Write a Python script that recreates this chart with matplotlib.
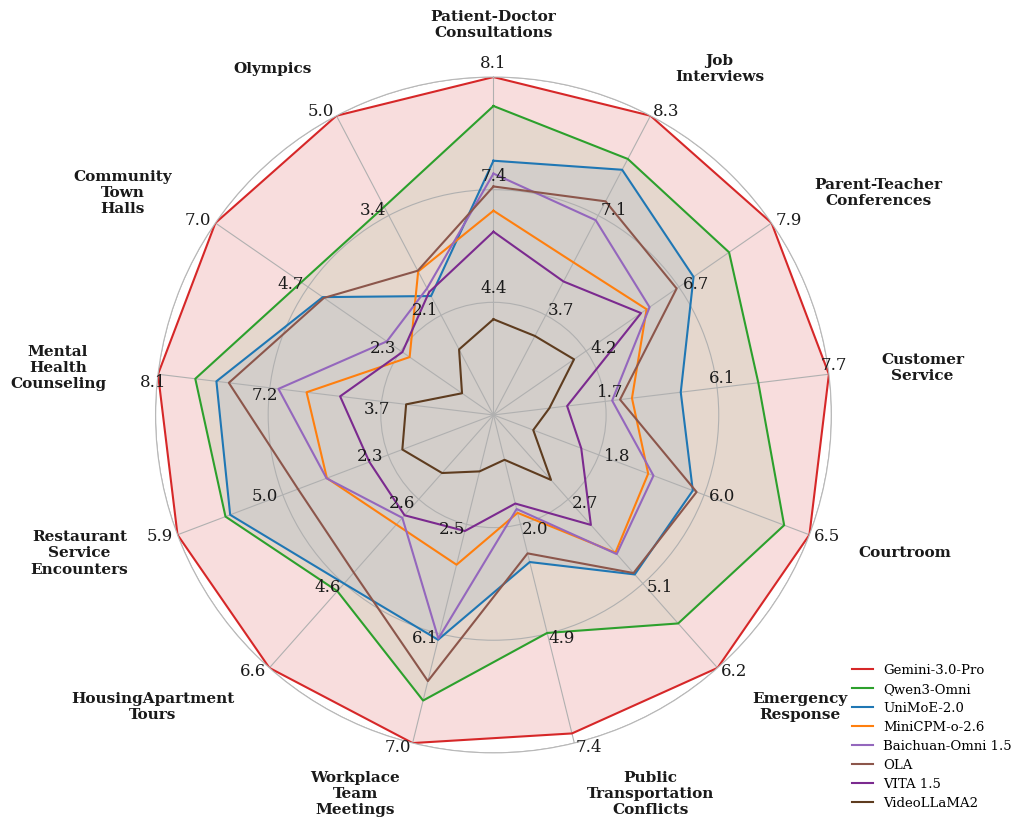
"""
Radar chart - per-scenario scores of omni models (each spoke has its own scale).
"""

import numpy as np
import matplotlib.pyplot as plt

plt.rcParams['font.family'] = 'DejaVu Serif'

# --- scenarios, clockwise from the top ------------------------------------
CATEGORIES = [
    "Patient-Doctor\nConsultations",
    "Job\nInterviews",
    "Parent-Teacher\nConferences",
    "Customer\nService",
    "Courtroom",
    "Emergency\nResponse",
    "Public\nTransportation\nConflicts",
    "Workplace\nTeam\nMeetings",
    "HousingApartment\nTours",
    "Restaurant\nService\nEncounters",
    "Mental\nHealth\nCounseling",
    "Community\nTown\nHalls",
    "Olympics",
]

# per-spoke scale: values shown on the three rings
TICKS_INNER = [4.4, 3.7, 4.2, 1.7, 1.8, 2.7, 2.0, 2.5, 2.6, 2.3, 3.7, 2.3, 2.1]
TICKS_MID = [7.4, 7.1, 6.7, 6.1, 6.0, 5.1, 4.9, 6.1, 4.6, 5.0, 7.2, 4.7, 3.4]
TICKS_OUTER = [8.1, 8.3, 7.9, 7.7, 6.5, 6.2, 7.4, 7.0, 6.6, 5.9, 8.1, 7.0, 5.0]

MODELS = ["Gemini-3.0-Pro", "Qwen3-Omni", "UniMoE-2.0", "MiniCPM-o-2.6",
          "Baichuan-Omni 1.5", "OLA", "VITA 1.5", "VideoLLaMA2"]
COLORS = ["#d62728", "#2ca02c", "#1f77b4", "#ff7f0e",
          "#9467bd", "#8c564b", "#7b2a8f", "#5e3c1f"]
# only the three strongest models get a shaded area
FILL_ALPHA = [0.155, 0.09, 0.09, 0, 0, 0, 0, 0]

gemini = [8.1, 8.3, 7.9, 7.7, 6.5, 6.2, 7.18, 7.0, 6.6, 5.9, 8.1, 7.0, 5.0]
qwen = [7.92, 7.78, 7.35, 6.69, 6.38, 5.62, 4.88, 6.65, 4.78, 5.49, 7.80, 4.87, 3.54]
unimoe = [7.58, 7.65, 6.89, 4.67, 5.55, 4.84, 3.00, 6.15, 4.60, 5.45, 7.63, 4.32, 2.35]
minicpm = [6.84, 5.50, 5.83, 2.75, 3.77, 4.22, 1.79, 3.83, 3.20, 3.87, 6.05, 2.08, 2.67]
baichuan = [7.50, 6.94, 5.91, 1.97, 3.98, 4.26, 1.72, 6.14, 3.04, 3.88, 6.93, 2.66, 2.45]
ola = [7.42, 7.27, 6.64, 2.28, 5.70, 4.80, 2.77, 6.49, 4.34, 4.61, 7.53, 4.29, 2.68]
vita = [6.28, 4.85, 5.68, 1.12, 1.50, 3.43, 1.62, 2.72, 2.98, 2.78, 5.00, 2.26, 2.40]
videollama = [3.74, 2.93, 3.65, 0.85, 0.68, 2.08, 0.82, 1.29, 1.79, 1.99, 2.89, 0.78, 1.38]

SCORES = [gemini, qwen, unimoe, minicpm, baichuan, ola, vita, videollama]

RINGS = [1 / 3, 2 / 3, 1.0]
N = len(CATEGORIES)
angles = np.arange(N) * 2 * np.pi / N


def to_radius(i, v):
    # piecewise-linear scale of spoke i through its ring values
    xp = [0, TICKS_INNER[i], TICKS_MID[i], TICKS_OUTER[i]]
    return np.interp(v, xp, [0] + RINGS)


fig = plt.figure(figsize=(10.24, 8.31), dpi=100)
ax = fig.add_axes([0.1519, 0.0939, 0.66, 0.8135], polar=True)
ax.set_theta_offset(np.pi / 2)
ax.set_theta_direction(-1)
ax.set_ylim(0, 1)

theta = np.append(angles, angles[0])
for name, color, alpha, vals in zip(MODELS, COLORS, FILL_ALPHA, SCORES):
    r = [to_radius(i, v) for i, v in enumerate(vals)]
    r.append(r[0])
    if alpha > 0:
        ax.fill(theta, r, color=color, alpha=alpha, lw=0)
    ax.plot(theta, r, color=color, lw=1.5, label=name)

ax.set_xticks(angles)
ax.set_xticklabels([])
ax.set_yticks(RINGS)
ax.set_yticklabels([])
ax.grid(True, color="#b0b0b0", lw=0.8)
ax.spines["polar"].set_color("#b8b8b8")
ax.spines["polar"].set_linewidth(0.8)

# ring values along each spoke
for i, a in enumerate(angles):
    c = np.sin(a)  # screen x direction of the spoke
    if abs(c) < 0.1:
        ha, va = "center", "bottom"
    elif abs(c) > 0.98:
        ha, va = "center", ("bottom" if c > 0 else "top")
    else:
        ha, va = ("left" if c > 0 else "right"), "center"
    for ring, val in zip(RINGS, (TICKS_INNER[i], TICKS_MID[i], TICKS_OUTER[i])):
        ax.text(a, ring + 0.015, f"{val:.1f}", ha=ha, va=va,
                fontsize=12, color="#1a1a1a")

    # scenario name
    if abs(c) < 0.1:
        lha = "center"
    else:
        lha = "left" if c > 0 else "right"
    ax.text(a, 1.155, CATEGORIES[i], ha=lha, va="center", ma="center",
            fontsize=11, fontweight="bold", color="#1a1a1a")

fig.legend(loc="lower left", bbox_to_anchor=(0.820, 0.0114), frameon=False,
           fontsize=9.5, handlelength=1.6, labelspacing=0.45)

fig.savefig("out.png", dpi=100)
